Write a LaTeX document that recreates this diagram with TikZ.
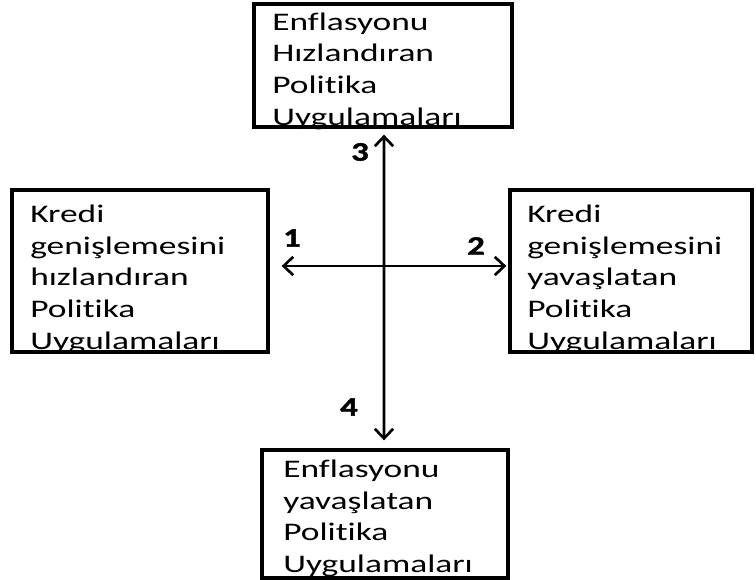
\documentclass[tikz,border=0pt]{standalone}
\usepackage{fontspec}
\usepackage{tikz}
\usetikzlibrary{arrows.meta}
\newfontfamily\boxfont{Carlito}[FakeStretch=1.4,Ligatures=NoCommon]
\newfontfamily\numfont{Carlito}[FakeStretch=1.3,BoldFeatures={FakeBold=1.6}]

\tikzset{
  kutu/.style={draw,line width=2.4pt,minimum width=#1,inner sep=0pt},
  yazi/.style={anchor=base west,inner sep=0pt,align=left,
    font=\boxfont\fontsize{18}{22.76}\selectfont},
  numara/.style={inner sep=0pt,font=\numfont\bfseries\fontsize{19}{20}\selectfont},
  ok/.style={line width=1.9pt,{Straight Barb[length=2.4mm,width=4.6mm]}-{Straight Barb[length=2.4mm,width=4.6mm]}}
}

\begin{document}
\begin{tikzpicture}
  \useasboundingbox (0,0) rectangle (18.9,14.5);
  % boxes
  \node[kutu=6.45cm,minimum height=3.075cm] (enfhiz) at (9.575,12.8625) {};
  \node[kutu=6.4cm,minimum height=4.05cm] (kredihiz) at (3.5,7.725) {};
  \node[kutu=6.05cm,minimum height=4.05cm] (krediyav) at (15.775,7.725) {};
  \node[kutu=6.15cm,minimum height=3.2cm] (enfyav) at (9.625,1.65) {};
  % texts (anchored on the last line)
  \node[yazi] (enfhiz-t) at (6.8,11.35) {Enflasyonu\\Hızlandıran\\Politika\\Uygulamaları};
  \node[yazi] (kredihiz-t) at (0.75,5.75) {Kredi\\genişlemesini\\hızlandıran\\Politika\\Uygulamaları};
  \node[yazi] (krediyav-t) at (13.175,5.75) {Kredi\\genişlemesini\\yavaşlatan\\Politika\\Uygulamaları};
  \node[yazi] (enfyav-t) at (7.075,0.175) {Enflasyonu\\yavaşlatan\\Politika\\Uygulamaları};
  % arrows
  \draw[ok,shorten <=0.15cm,shorten >=0.2cm] %
    ([xshift=0.025cm]enfhiz.south) -- ([xshift=-0.025cm]enfyav.north);
  \draw[ok,shorten <=0.3cm,shorten >=0.05cm] %
    ([yshift=0.125cm]kredihiz.east) -- ([yshift=0.125cm]krediyav.west);
  % numbers
  \node[numara] (n3) at (9.0,10.7) {3};
  \node[numara] (n1) at (7.3,8.55) {1};
  \node[numara] (n2) at (11.9,8.35) {2};
  \node[numara] (n4) at (8.725,4.325) {4};
\end{tikzpicture}
\end{document}
